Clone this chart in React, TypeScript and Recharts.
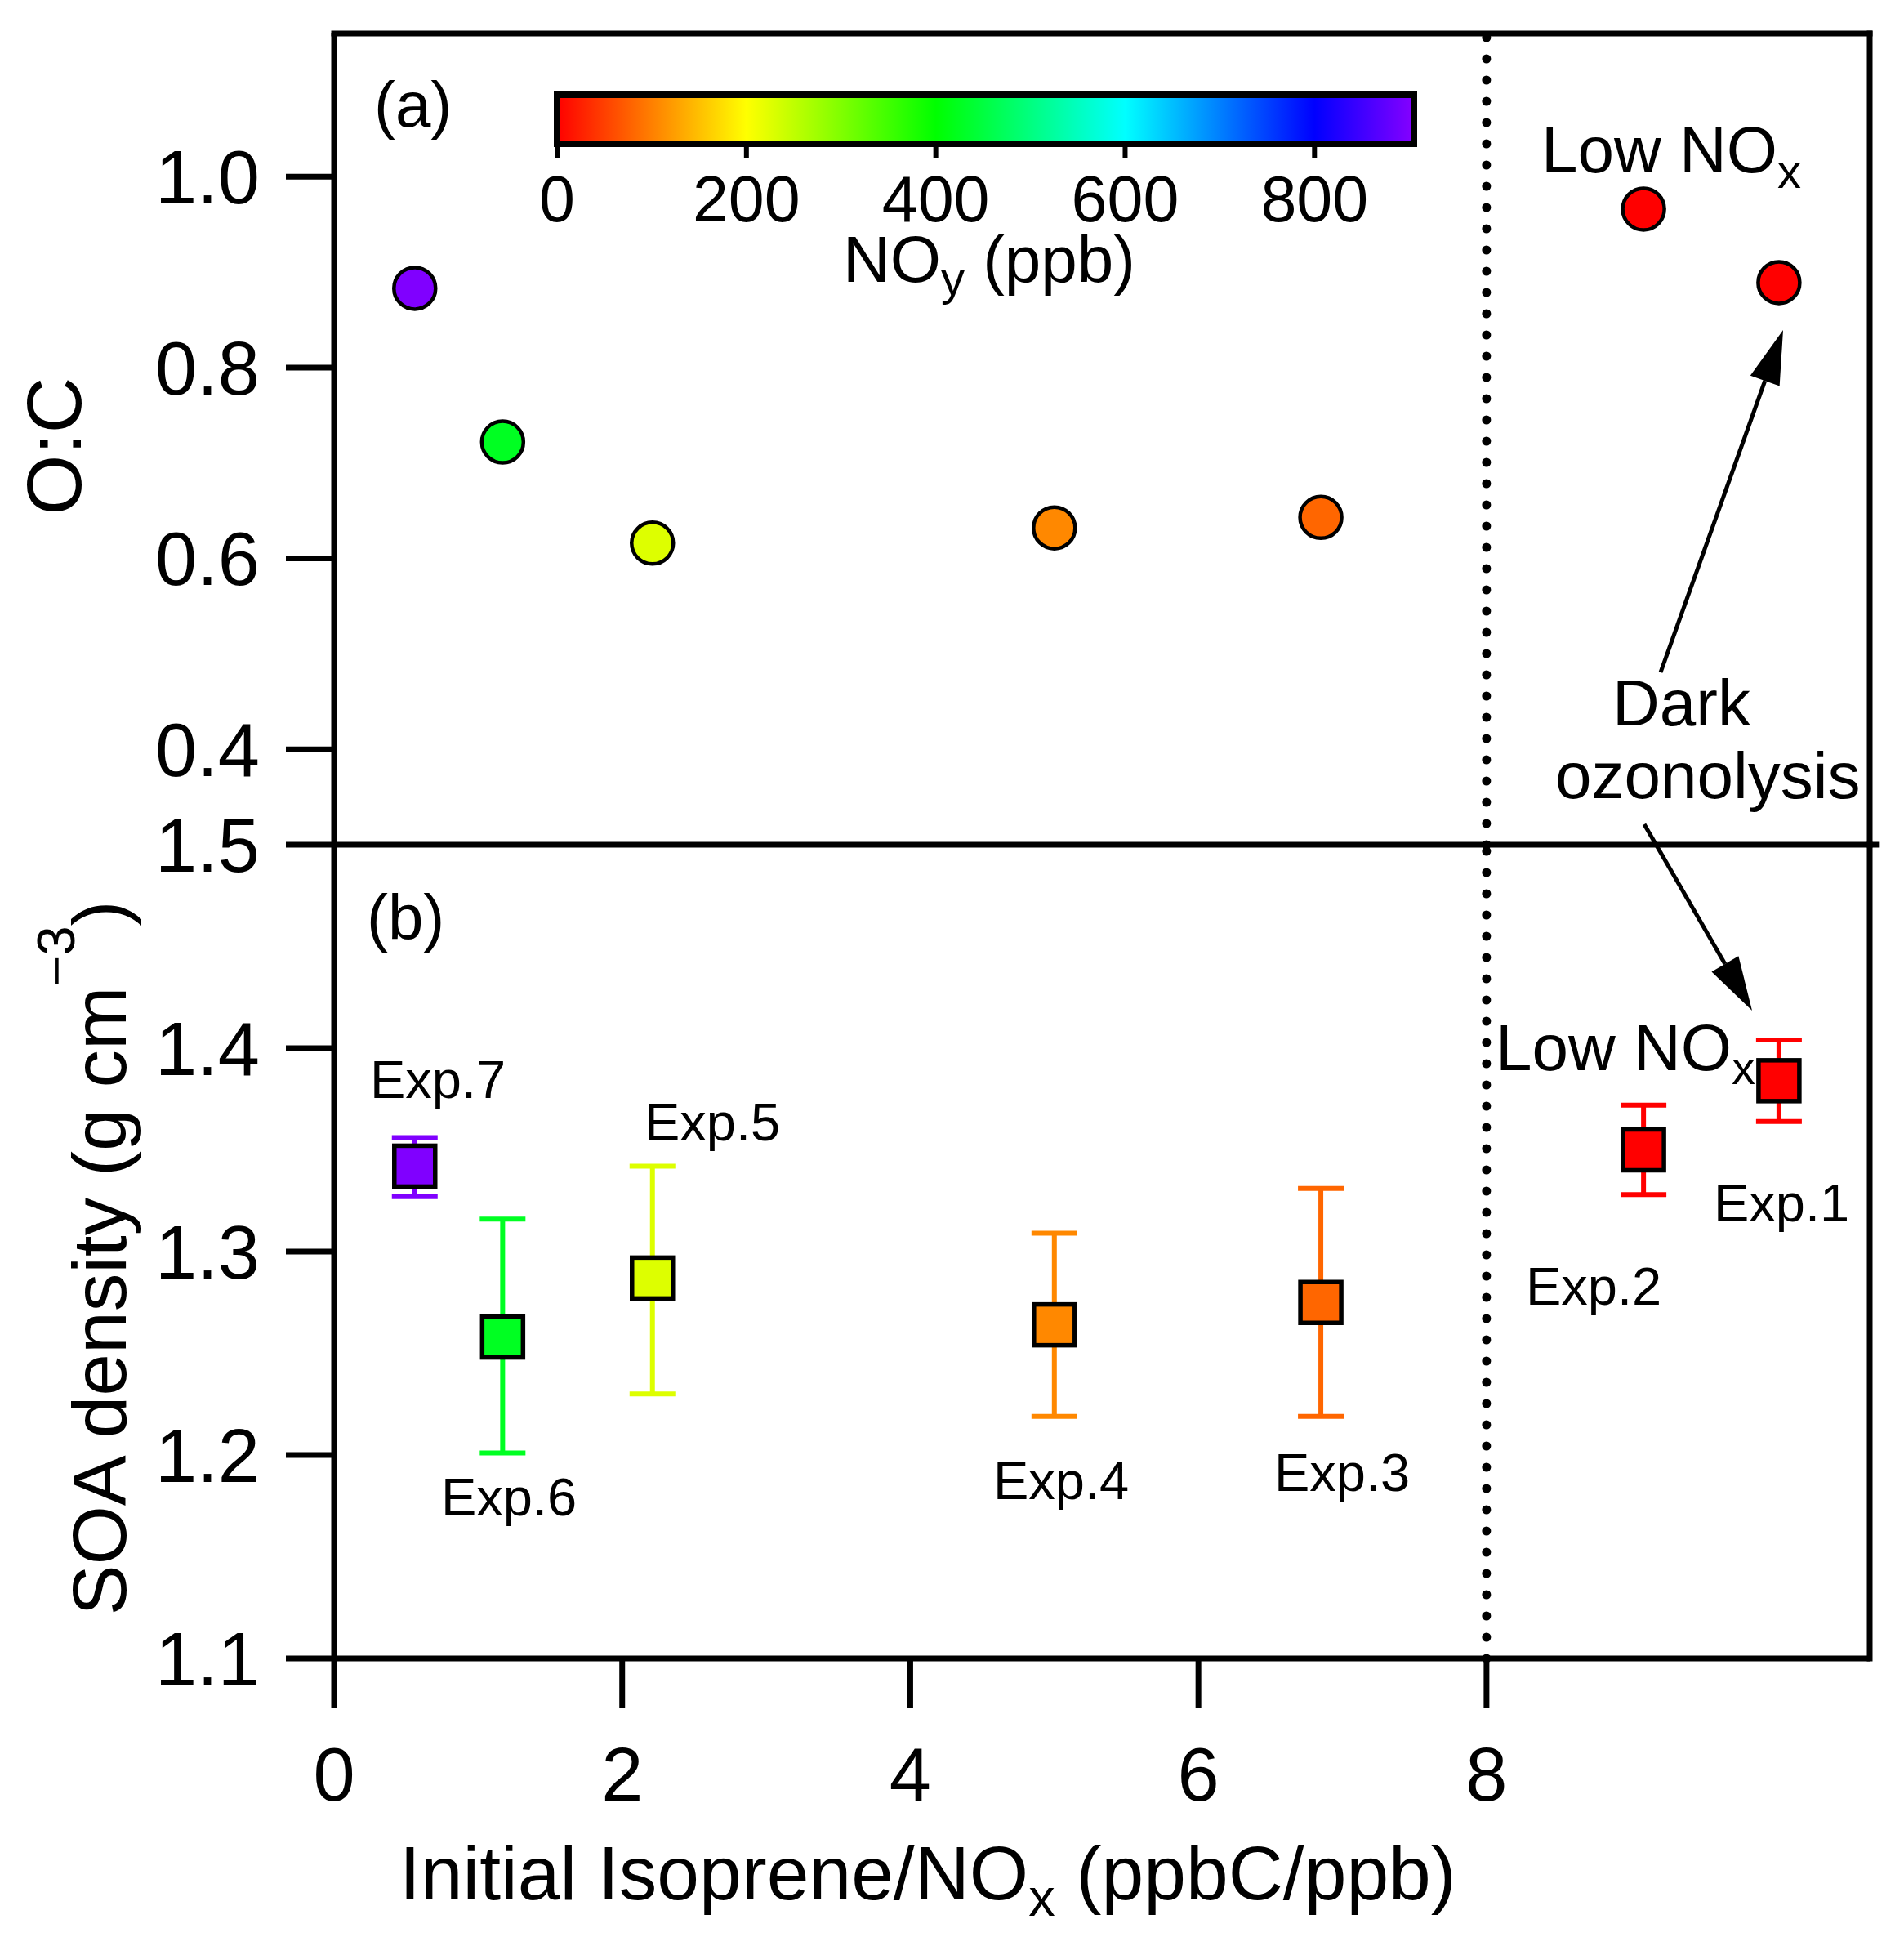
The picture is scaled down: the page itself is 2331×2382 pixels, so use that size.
import React from "react";
import {
  ScatterChart, Scatter, XAxis, YAxis, ReferenceLine, ReferenceArea, ErrorBar
} from "recharts";

document.body.style.margin = "0";

const W = 2331;
const H = 2382;
const FONT = "'Liberation Sans', Arial, Helvetica, sans-serif";

// one entry per experiment, Exp.1 ... Exp.7
const expNames = ["Exp.1", "Exp.2", "Exp.3", "Exp.4", "Exp.5", "Exp.6", "Exp.7"];
const isopreneNox = [10.03, 9.09, 6.85, 5.0, 2.21, 1.17, 0.56];
const oToC = [0.889, 0.966, 0.643, 0.632, 0.616, 0.722, 0.883];
const soaDensity = [1.384, 1.35, 1.275, 1.264, 1.287, 1.258, 1.342];
const densityHigh = [1.404, 1.372, 1.331, 1.309, 1.342, 1.316, 1.356];
const densityLow = [1.364, 1.328, 1.219, 1.219, 1.23, 1.201, 1.327];
const noyPpb = [0, 0, 80, 107, 227, 427, 900];

const xTicks = [0, 2, 4, 6, 8];
const ocTicks = [0.4, 0.6, 0.8, 1.0];
const densTicks = [1.1, 1.2, 1.3, 1.4, 1.5];
const noyTicks = [0, 200, 400, 600, 800];
const gradSteps = [0, 100, 200, 300, 400, 500, 600, 700, 800, 900, 905];

const X_MAX = 10.66;
const NOY_MAX = 905;
const noyColor = (v: number) => `hsl(${Math.min(v, NOY_MAX) * 0.3}, 100%, 50%)`;

const ocData = expNames.map((n, i) => ({ x: isopreneNox[i], y: oToC[i], color: noyColor(noyPpb[i]) }));
const densData = expNames.map((n, i) => ({
  x: isopreneNox[i],
  y: soaDensity[i],
  err: [soaDensity[i] - densityLow[i], densityHigh[i] - soaDensity[i]],
  color: noyColor(noyPpb[i]),
}));
const barData = gradSteps.map((v) => ({ x: v, y: 0.5 }));

const axisLine = { stroke: "#000", strokeWidth: 7 };
const tickLine = { stroke: "#000", strokeWidth: 7 };
const tickFont = { fontSize: 92, fill: "#000", fontFamily: FONT };

// plot box edges (px)
const LEFT = 409, RIGHT = 2289, TOP = 41, MID = 1034, BOTTOM = 2030;
const Y_AXIS_W = 200, X_AXIS_H = 200;

const Circle = (p: any) => (
  <circle cx={p.cx} cy={p.cy} r={25.5} fill={p.payload.color} stroke="#000" strokeWidth={4.5} />
);
const Square = (p: any) => (
  <rect x={p.cx - 25} y={p.cy - 25} width={50} height={50} fill={p.payload.color} stroke="#000" strokeWidth={5.5} />
);
const Nothing = () => <g />;

function Arrow({ x1, y1, x2, y2 }: { x1: number; y1: number; x2: number; y2: number }) {
  const len = Math.hypot(x2 - x1, y2 - y1);
  const ux = (x2 - x1) / len, uy = (y2 - y1) / len;
  const bx = x2 - ux * 66, by = y2 - uy * 66;
  const nx = -uy * 19, ny = ux * 19;
  return (
    <g>
      <line x1={x1} y1={y1} x2={bx} y2={by} stroke="#000" strokeWidth={5} />
      <polygon points={`${x2},${y2} ${bx + nx},${by + ny} ${bx - nx},${by - ny}`} fill="#000" />
    </g>
  );
}

// label placement for the experiment names (start x, baseline y)
const expLabelPos = [[2098, 1495], [1868, 1597], [1560, 1825], [1216, 1835], [789, 1396], [540, 1855], [453, 1344]];

export default function App() {
  return (
    <div style={{ position: "relative", width: W, height: H, background: "#fff" }}>
      {/* (a) O:C */}
      <div style={{ position: "absolute", left: 0, top: 0 }}>
        <ScatterChart width={W} height={H}
          margin={{ top: TOP, right: W - RIGHT, bottom: H - MID, left: LEFT - Y_AXIS_W }}>
          <XAxis type="number" dataKey="x" domain={[0, X_MAX]} hide allowDataOverflow />
          <YAxis type="number" dataKey="y" domain={[0.3, 1.15]} ticks={ocTicks} width={Y_AXIS_W}
            tickSize={59} tickMargin={32} tick={tickFont} tickLine={tickLine} axisLine={axisLine}
            tickFormatter={(v: number) => v.toFixed(1)} allowDataOverflow />
          <ReferenceLine y={1.15} stroke="#000" strokeWidth={7} strokeLinecap="square" />
          <ReferenceLine x={X_MAX} stroke="#000" strokeWidth={7} strokeLinecap="square" />
          <ReferenceLine x={8} stroke="#000" strokeWidth={11} strokeDasharray="0 26" strokeLinecap="round" />
          <Scatter data={ocData} shape={Circle} isAnimationActive={false} />
        </ScatterChart>
      </div>

      {/* (b) SOA density */}
      <div style={{ position: "absolute", left: 0, top: 0 }}>
        <ScatterChart width={W} height={H}
          margin={{ top: MID, right: W - RIGHT, bottom: H - BOTTOM - X_AXIS_H, left: LEFT - Y_AXIS_W }}>
          <XAxis type="number" dataKey="x" domain={[0, X_MAX]} ticks={xTicks} height={X_AXIS_H}
            tickSize={61} tickMargin={48} tick={tickFont} tickLine={tickLine} axisLine={axisLine} allowDataOverflow />
          <YAxis type="number" dataKey="y" domain={[1.1, 1.5]} ticks={densTicks} width={Y_AXIS_W}
            tickSize={59} tickMargin={32} tick={tickFont} tickLine={tickLine} axisLine={axisLine}
            tickFormatter={(v: number) => v.toFixed(1)} allowDataOverflow />
          <ReferenceLine segment={[{ x: 0, y: 1.5 }, { x: 10.73, y: 1.5 }]} ifOverflow="visible" stroke="#000" strokeWidth={7} />
          <ReferenceLine x={X_MAX} stroke="#000" strokeWidth={7} strokeLinecap="square" />
          <ReferenceLine x={8} stroke="#000" strokeWidth={11} strokeDasharray="0 26" strokeLinecap="round" />
          {densData.map((d, i) => (
            <Scatter key={expNames[i]} data={[d]} fill={d.color} shape={Square} isAnimationActive={false}>
              <ErrorBar dataKey="err" direction="y" width={28} stroke={d.color} strokeWidth={6} isAnimationActive={false} />
            </Scatter>
          ))}
        </ScatterChart>
      </div>

      {/* NOy colour bar */}
      <div style={{ position: "absolute", left: 0, top: 0 }}>
        <ScatterChart width={W} height={300} margin={{ top: 116, right: W - 1731, bottom: 300 - 176 - 100, left: 682 }}>
          <XAxis type="number" dataKey="x" domain={[0, NOY_MAX]} ticks={noyTicks} height={100}
            tickSize={18} tickMargin={21} axisLine={false} tickLine={{ stroke: "#000", strokeWidth: 6 }}
            tick={{ fontSize: 79, fill: "#000", fontFamily: FONT }} allowDataOverflow />
          <YAxis type="number" dataKey="y" domain={[0, 1]} hide />
          <ReferenceArea x1={0} x2={NOY_MAX} y1={0} y2={1} fill="url(#noyGrad)" fillOpacity={1} stroke="#000" strokeWidth={8} />
          <Scatter data={barData} shape={Nothing} isAnimationActive={false} />
        </ScatterChart>
      </div>

      <svg width={W} height={H} style={{ position: "absolute", left: 0, top: 0 }} fontFamily={FONT} fill="#000">
        <defs>
          <linearGradient id="noyGrad" x1="0" x2="1" y1="0" y2="0">
            {gradSteps.map((v) => (
              <stop key={v} offset={v / NOY_MAX} stopColor={noyColor(v)} />
            ))}
          </linearGradient>
        </defs>

        <text x={458} y={155} fontSize={78}>(a)</text>
        <text x={449} y={1150} fontSize={78}>(b)</text>

        <text x={1032} y={345} fontSize={80}>
          NO<tspan fontSize={58} dy={16}>y</tspan><tspan dy={-16}> (ppb)</tspan>
        </text>

        <text x={1887} y={211} fontSize={80}>
          Low NO<tspan fontSize={58} dy={19}>x</tspan>
        </text>
        <text x={1831} y={1310} fontSize={80}>
          Low NO<tspan fontSize={58} dy={17}>x</tspan>
        </text>

        <text x={1974} y={888} fontSize={80}>Dark</text>
        <text x={1904} y={977} fontSize={80}>ozonolysis</text>
        <Arrow x1={2033} y1={823} x2={2183} y2={404} />
        <Arrow x1={2013} y1={1009} x2={2145} y2={1237} />

        {expNames.map((n, i) => (
          <text key={n} x={expLabelPos[i][0]} y={expLabelPos[i][1]} fontSize={65}>{n}</text>
        ))}

        <text x={99} y={546} fontSize={95} textAnchor="middle" transform="rotate(-90 99 546)">O:C</text>
        <text x={154} y={1540} fontSize={93} textAnchor="middle" transform="rotate(-90 154 1540)">
          SOA density (g cm<tspan fontSize={65} dy={-63}>−3</tspan><tspan dy={63}>)</tspan>
        </text>
        <text x={489} y={2325} fontSize={93}>
          Initial Isoprene/NO<tspan fontSize={65} dy={20}>x</tspan><tspan dy={-20}> (ppbC/ppb)</tspan>
        </text>
      </svg>
    </div>
  );
}
